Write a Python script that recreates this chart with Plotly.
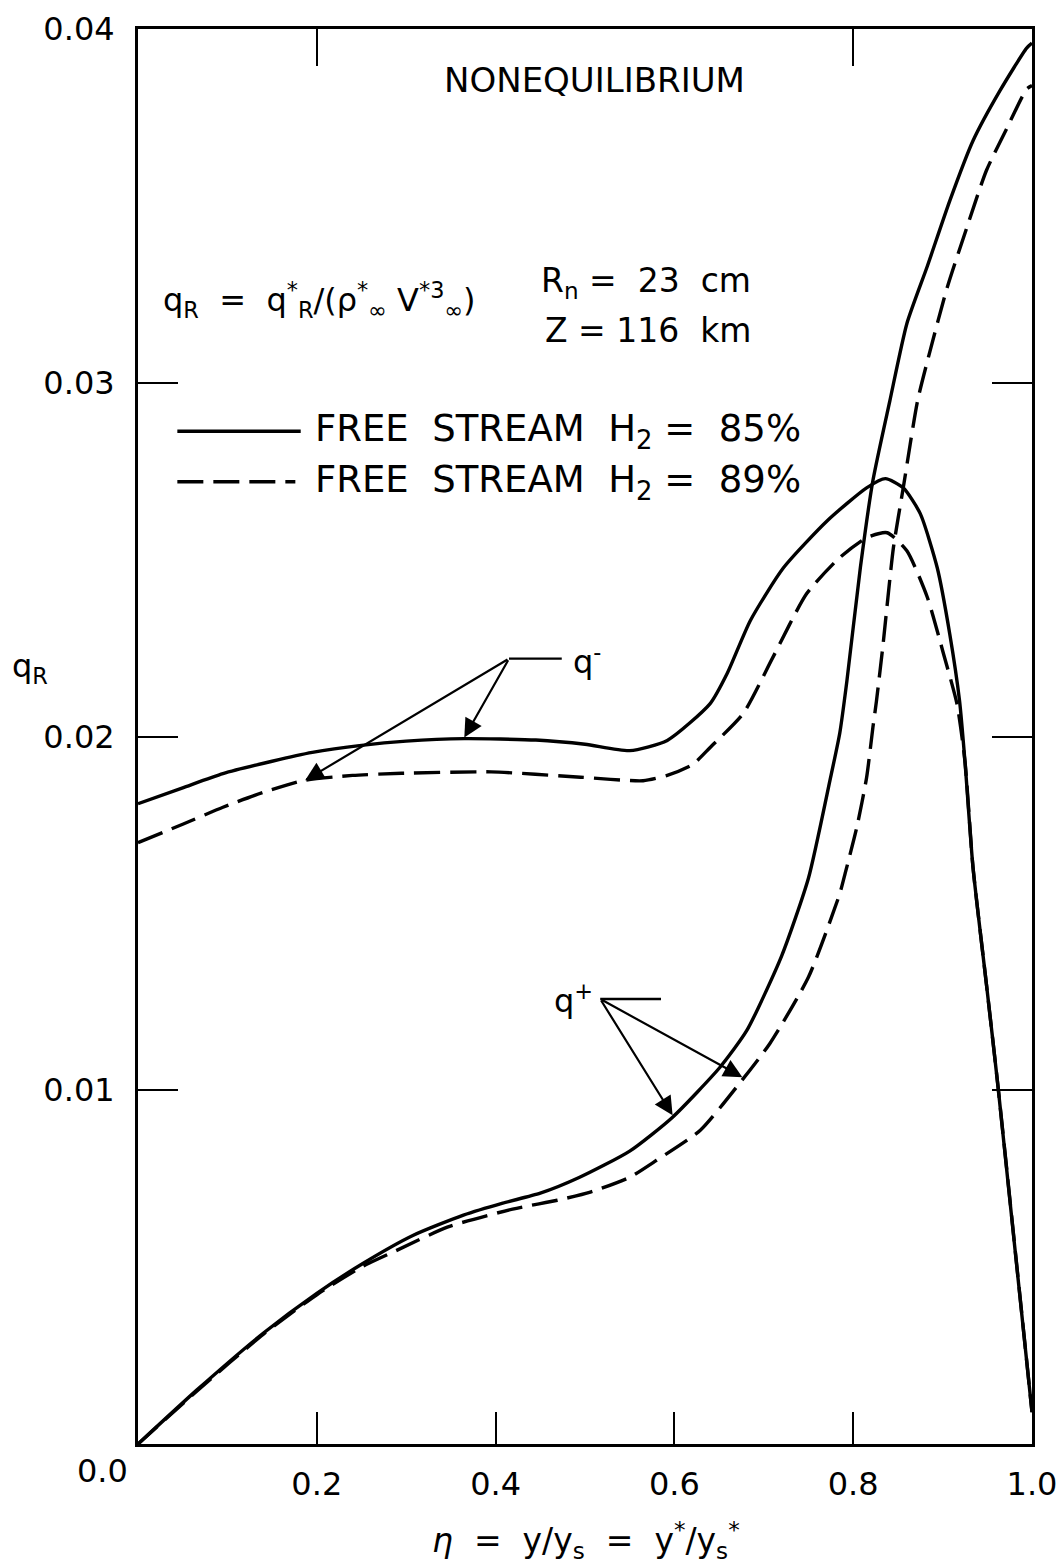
import plotly.graph_objects as go

# ---------------- data ----------------
# q- (radiative flux toward the wall), free stream H2 = 85 %
eta_qm_85 = [0.0, 0.05, 0.095, 0.15, 0.195, 0.25, 0.30, 0.365, 0.445, 0.50, 0.55,
             0.592, 0.64, 0.659, 0.685, 0.722, 0.771, 0.815, 0.836, 0.856, 0.875,
             0.894, 0.908, 0.919, 0.925, 0.934, 0.949, 0.962, 1.0]
qm_85 = [0.0181, 0.01855, 0.01895, 0.0193, 0.01955, 0.01975, 0.01987, 0.01994, 0.0199,
         0.01978, 0.0196, 0.01989, 0.02093, 0.02178, 0.02328, 0.02477, 0.0261, 0.02703,
         0.02729, 0.02703, 0.0263, 0.02477, 0.0229, 0.0210, 0.0193, 0.0163, 0.0130,
         0.0101, 0.0009]

# q-, free stream H2 = 89 %
eta_qm_89 = [0.0, 0.05, 0.095, 0.14, 0.186, 0.24, 0.295, 0.395, 0.495, 0.565, 0.592,
             0.62, 0.64, 0.677, 0.71, 0.748, 0.785, 0.815, 0.838, 0.86, 0.883, 0.901,
             0.916, 0.925, 0.934, 0.949, 0.962, 1.0]
qm_89 = [0.0170, 0.01752, 0.0180, 0.01842, 0.01876, 0.0189, 0.01896, 0.0190, 0.01885,
         0.01875, 0.0189, 0.0192, 0.01969, 0.02065, 0.02223, 0.02404, 0.02506, 0.02562,
         0.02576, 0.02525, 0.02393, 0.02234, 0.02093, 0.0193, 0.0163, 0.0130, 0.0101,
         0.0009]

# q+ (radiative flux toward the shock), H2 = 85 %
eta_qp_85 = [0.0, 0.066, 0.14, 0.2, 0.252, 0.308, 0.364, 0.408, 0.45, 0.494, 0.55,
             0.598, 0.651, 0.681, 0.72, 0.75, 0.774, 0.785, 0.793, 0.808, 0.822, 0.841,
             0.86, 0.883, 0.908, 0.934, 0.964, 0.994, 1.0]
qp_85 = [0.0, 0.00153, 0.00313, 0.00426, 0.00511, 0.0059, 0.00647, 0.00681, 0.00709,
         0.00754, 0.00828, 0.00924, 0.01065, 0.01169, 0.0138, 0.0160, 0.01876, 0.0201,
         0.02158, 0.02477, 0.02723, 0.02949, 0.03167, 0.0333, 0.03514, 0.03684, 0.03825,
         0.03946, 0.0396]

# q+, H2 = 89 %
eta_qp_89 = [0.0, 0.066, 0.14, 0.2, 0.252, 0.29, 0.346, 0.419, 0.469, 0.506, 0.55,
             0.58, 0.629, 0.673, 0.707, 0.75, 0.785, 0.791, 0.804, 0.815, 0.822, 0.826,
             0.833, 0.845, 0.856, 0.872, 0.886, 0.905, 0.927, 0.949, 0.972, 0.994, 1.0]
qp_89 = [0.0, 0.0015, 0.0031, 0.00422, 0.00503, 0.00548, 0.00613, 0.00664, 0.00689,
         0.00712, 0.00754, 0.00802, 0.00887, 0.0102, 0.01133, 0.0132, 0.01556, 0.01613,
         0.01743, 0.01884, 0.02025, 0.0210, 0.02251, 0.02534, 0.02703, 0.02949, 0.0309,
         0.03268, 0.03438, 0.036, 0.0372, 0.0383, 0.0384]

# axis ticks
x_tick_vals = [0.2, 0.4, 0.6, 0.8, 1.0]
x_tick_text = ["0.2", "0.4", "0.6", "0.8", "1.0"]
x_origin_text = "0.0"
x_top_tick_vals = [0.2, 0.8]
y_tick_vals = [0.01, 0.02, 0.03, 0.04]
y_tick_text = ["0.01", "0.02", "0.03", "0.04"]

# pointer annotations: (tip eta, tip q, tail eta, tail q)
qm_arrows = [(0.187, 0.01876, 0.415, 0.0222), (0.365, 0.01997, 0.415, 0.0222)]
qm_leader = (0.415, 0.474, 0.0222)
qp_arrows = [(0.598, 0.00929, 0.517, 0.01258), (0.676, 0.01037, 0.517, 0.01258)]
qp_leader = (0.517, 0.585, 0.01258)

FONT = "DejaVu Sans"
BLACK = "black"
LW = 3.4
DASH = "26px,10px"

fig = go.Figure()

def curve(x, y, dash=None):
    fig.add_trace(go.Scatter(
        x=x, y=y, mode="lines", showlegend=False, hoverinfo="skip",
        line=dict(color=BLACK, width=LW, dash=dash, shape="spline", smoothing=0.6)))

curve(eta_qm_85, qm_85)
curve(eta_qm_89, qm_89, DASH)
curve(eta_qp_85, qp_85)
curve(eta_qp_89, qp_89, DASH)

# invisible trace that carries the top tick axis
fig.add_trace(go.Scatter(x=x_top_tick_vals, y=[0, 0], xaxis="x2", mode="lines",
                         line=dict(width=0), showlegend=False, hoverinfo="skip"))

annotations = []

def text(x, y, s, size, xanchor="left", xref="x", yref="y", xshift=0, yshift=0):
    annotations.append(dict(x=x, y=y, xref=xref, yref=yref, text=s, showarrow=False,
                            xanchor=xanchor, yanchor="middle", xshift=xshift, yshift=yshift,
                            font=dict(family=FONT, size=size, color=BLACK)))

text(0.511, 0.03856, "NONEQUILIBRIUM", 34, xanchor="center")
text(0.0257, 0.03234,
     "q<sub>R</sub>  =  q<sup>*</sup><sub>R</sub>/(ρ<sup>*</sup><sub>∞</sub> V<sup>*3</sup><sub>∞</sub>)",
     32)
text(0.688, 0.03282, "R<sub>n</sub> =  23  cm", 33, xanchor="right")
text(0.688, 0.03149, "Z = 116  km", 33, xanchor="right")
text(0.196, 0.02863, "FREE  STREAM  H<sub>2</sub> =  85%", 37)
text(0.196, 0.02720, "FREE  STREAM  H<sub>2</sub> =  89%", 37)
text(0.484, 0.02216, "q<sup>-</sup>", 32)
text(0.511, 0.01258, "q<sup>+</sup>", 32, xanchor="right")

# axis titles and the shared origin label
text(-0.121, 0.02194, "q<sub>R</sub>", 32, xanchor="center", xref="paper")
text(0.501, 0, "<i>η</i>  =  y/y<sub>s</sub>  =  y<sup>*</sup>/y<sub>s</sub><sup>*</sup>", 33,
     xanchor="center", yref="paper", yshift=-96)
text(0, 0, x_origin_text, 32, xanchor="center", yref="paper", xshift=-36, yshift=-27)

for tx, ty, ax_, ay_ in qm_arrows + qp_arrows:
    annotations.append(dict(x=tx, y=ty, ax=ax_, ay=ay_, xref="x", yref="y",
                            axref="x", ayref="y", text="", showarrow=True,
                            arrowhead=2, arrowsize=1.7, arrowwidth=2.2,
                            arrowcolor=BLACK, standoff=0))

shapes = []
for x0, x1, yv in (qm_leader, qp_leader):
    shapes.append(dict(type="line", xref="x", yref="y", x0=x0, x1=x1, y0=yv, y1=yv,
                       line=dict(color=BLACK, width=2.4)))

# key lines drawn in front of the two "FREE STREAM" labels
key_y = [0.02863, 0.02720]
shapes.append(dict(type="line", xref="x", yref="y", x0=0.044, x1=0.182, y0=key_y[0],
                   y1=key_y[0], line=dict(color=BLACK, width=LW)))
shapes.append(dict(type="line", xref="x", yref="y", x0=0.044, x1=0.176, y0=key_y[1],
                   y1=key_y[1], line=dict(color=BLACK, width=LW, dash=DASH)))

fig.update_layout(
    width=1062, height=1563,
    margin=dict(l=138, r=30, t=29, b=119),
    paper_bgcolor="white", plot_bgcolor="white",
    annotations=annotations, shapes=shapes,
    font=dict(family=FONT, size=32, color=BLACK),
    xaxis=dict(range=[0, 1], tickvals=x_tick_vals, ticktext=x_tick_text,
               ticks="inside", ticklen=32, tickwidth=2, tickcolor=BLACK,
               showline=True, linewidth=3, linecolor=BLACK, mirror=True,
               showgrid=False, zeroline=False, ticklabelstandoff=10,
               automargin=False, tickfont=dict(family=FONT, size=32)),
    xaxis2=dict(range=[0, 1], overlaying="x", side="top", tickvals=x_top_tick_vals,
                ticks="inside", ticklen=37, tickwidth=2, tickcolor=BLACK,
                showticklabels=False, showline=False, showgrid=False, zeroline=False,
                automargin=False),
    yaxis=dict(range=[0, 0.04], tickvals=y_tick_vals, ticktext=y_tick_text,
               ticks="inside", ticklen=40, tickwidth=2, tickcolor=BLACK,
               showline=True, linewidth=3, linecolor=BLACK, mirror="ticks",
               showgrid=False, zeroline=False, ticklabelstandoff=14,
               automargin=False, tickfont=dict(family=FONT, size=32)),
)

fig.write_html("out.html")
